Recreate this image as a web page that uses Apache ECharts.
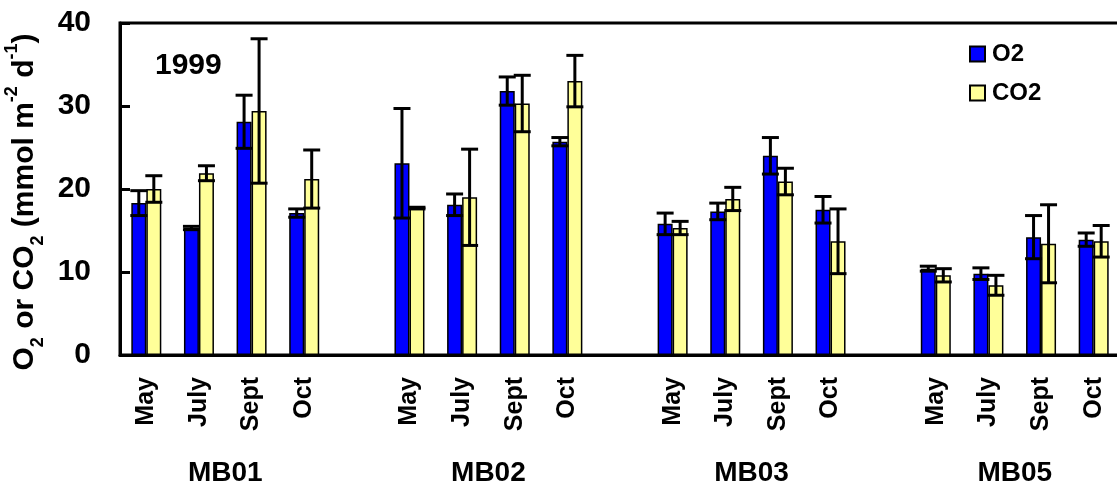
<!DOCTYPE html>
<html>
<head>
<meta charset="utf-8">
<script src="https://cdn.jsdelivr.net/npm/echarts@6/dist/echarts.min.js"></script>
<style>
html, body { margin: 0; padding: 0; background: #fff; }
#chart { width: 1117px; height: 487px; }
</style>
</head>
<body>
<div id="chart"></div>
<script>
// O2 / CO2 fluxes 1999, four sites, bars with error bars

var sites = ['MB01', 'MB02', 'MB03', 'MB05'];
var months = ['May', 'July', 'Sept', 'Oct'];

// values per site, in month order (blank slot between sites added below)
var o2Mean = [
    [18.3, 15.3, 28.1, 17.1],
    [23.1, 18.1, 31.8, 25.7],
    [15.8, 17.3, 24.0, 17.5],
    [10.4, 9.8, 14.2, 13.9]
];
var o2Err = [
    [1.5, 0.2, 3.2, 0.5],
    [6.6, 1.3, 1.7, 0.5],
    [1.3, 1.0, 2.2, 1.6],
    [0.3, 0.7, 2.6, 0.8]
];
var co2Mean = [
    [20.0, 21.9, 29.4, 21.2],
    [17.7, 19.0, 30.3, 33.0],
    [15.3, 18.8, 20.9, 13.7],
    [9.6, 8.4, 13.4, 13.7]
];
var co2Err = [
    [1.6, 0.9, 8.7, 3.5],
    [0.1, 5.8, 3.4, 3.1],
    [0.8, 1.4, 1.6, 3.9],
    [0.8, 1.2, 4.7, 1.9]
];

var FONT = 'Liberation Sans, Arial, sans-serif';
var BAR_W = 15;

// build the category list: 4 months per site, one empty slot between sites
var cats = [], o2Data = [], co2Data = [], o2ErrData = [], co2ErrData = [], groupIdx = [];
sites.forEach(function (s, si) {
    if (si > 0) {
        cats.push('gap' + si);
        o2Data.push('-');
        co2Data.push('-');
    }
    var first = cats.length;
    months.forEach(function (m, mi) {
        var idx = cats.length;
        cats.push(s + ' ' + m);
        o2Data.push(o2Mean[si][mi]);
        co2Data.push(co2Mean[si][mi]);
        o2ErrData.push([idx, o2Mean[si][mi] - o2Err[si][mi], o2Mean[si][mi] + o2Err[si][mi]]);
        co2ErrData.push([idx, co2Mean[si][mi] - co2Err[si][mi], co2Mean[si][mi] + co2Err[si][mi]]);
    });
    groupIdx.push([first, cats.length - 1]);
});

function errRender(shift) {
    return function (params, api) {
        var x = api.coord([api.value(0), 0])[0] + shift;
        var lo = api.coord([api.value(0), api.value(1)])[1];
        var hi = api.coord([api.value(0), api.value(2)])[1];
        var cap = 8.5;
        var st = { stroke: '#000', lineWidth: 3 };
        return {
            type: 'group',
            children: [
                { type: 'line', shape: { x1: x, y1: lo, x2: x, y2: hi }, style: st },
                { type: 'line', shape: { x1: x - cap, y1: hi, x2: x + cap, y2: hi }, style: st },
                { type: 'line', shape: { x1: x - cap, y1: lo, x2: x + cap, y2: lo }, style: st }
            ]
        };
    };
}

var chart = echarts.init(document.getElementById('chart'));
chart.setOption({
    animation: false,
    color: ['#0000ff', '#ffff99'],
    title: {
        text: '1999',
        left: 150,
        top: 46,
        textStyle: { fontFamily: FONT, fontSize: 30, fontWeight: 'bold', color: '#000' }
    },
    legend: {
        orient: 'vertical',
        left: 964,
        top: 37,
        itemWidth: 15,
        itemHeight: 15,
        itemGap: 15,
        icon: 'rect',
        data: ['O2', 'CO2'],
        textStyle: { fontFamily: FONT, fontSize: 24, fontWeight: 'bold', color: '#000', padding: [0, 0, 0, 2] }
    },
    grid: {
        left: 120,
        top: 23,
        right: -3,
        bottom: 132,
        outerBoundsMode: 'none',
        containLabel: false,
        show: true,
        borderColor: '#000',
        borderWidth: 3
    },
    xAxis: {
        type: 'category',
        data: cats,
        axisLine: { lineStyle: { color: '#000', width: 3 } },
        axisTick: { inside: true, length: 8, interval: 0, lineStyle: { color: '#000', width: 3 } },
        axisLabel: {
            interval: 0,
            rotate: 90,
            margin: 22,
            fontFamily: FONT,
            fontSize: 25,
            fontWeight: 'bold',
            color: '#000',
            formatter: function (v) {
                return v.indexOf('gap') === 0 ? '' : v.split(' ')[1];
            }
        }
    },
    yAxis: {
        type: 'value',
        min: 0,
        max: 40,
        interval: 10,
        name: 'O{sub|2} or CO{sub|2} (mmol m{sup|-2} d{sup|-1})',
        nameLocation: 'middle',
        nameGap: 68,
        nameRotate: 90,
        nameTextStyle: {
            fontFamily: FONT,
            fontSize: 30,
            fontWeight: 'bold',
            color: '#000',
            lineHeight: 36,
            padding: [0, 26, 0, 0],
            rich: {
                sub: { fontFamily: FONT, fontSize: 18, fontWeight: 'bold', color: '#000', verticalAlign: 'bottom', lineHeight: 28 },
                sup: { fontFamily: FONT, fontSize: 18, fontWeight: 'bold', color: '#000', verticalAlign: 'top', lineHeight: 44 }
            }
        },
        splitLine: { show: false },
        axisLine: { show: true, lineStyle: { color: '#000', width: 3 } },
        axisTick: { show: true, inside: true, length: 10, lineStyle: { color: '#000', width: 3 } },
        axisLabel: {
            margin: 29,
            fontFamily: FONT,
            fontSize: 30,
            fontWeight: 'bold',
            color: '#000'
        }
    },
    series: [
        {
            name: 'O2',
            type: 'bar',
            barWidth: BAR_W,
            barGap: '0%',
            data: o2Data,
            itemStyle: { color: '#0000ff', borderColor: '#000', borderWidth: 1.5 }
        },
        {
            name: 'CO2',
            type: 'bar',
            barWidth: BAR_W,
            barGap: '0%',
            data: co2Data,
            itemStyle: { color: '#ffff99', borderColor: '#000', borderWidth: 1.5 }
        },
        {
            type: 'custom',
            renderItem: errRender(-BAR_W / 2),
            data: o2ErrData,
            encode: { x: 0, y: [1, 2] },
            z: 5
        },
        {
            type: 'custom',
            renderItem: errRender(BAR_W / 2),
            data: co2ErrData,
            encode: { x: 0, y: [1, 2] },
            z: 5
        }
    ]
});

// site names centred under each group of months
var siteText = groupIdx.map(function (g, i) {
    var a = chart.convertToPixel({ xAxisIndex: 0 }, g[0]);
    var b = chart.convertToPixel({ xAxisIndex: 0 }, g[1]);
    return {
        type: 'text',
        x: (a + b) / 2,
        y: 459,
        style: {
            text: sites[i],
            fontFamily: FONT,
            fontSize: 28,
            fontWeight: 'bold',
            fill: '#000',
            align: 'center',
            verticalAlign: 'top'
        }
    };
});
chart.setOption({ graphic: siteText });
</script>
</body>
</html>
